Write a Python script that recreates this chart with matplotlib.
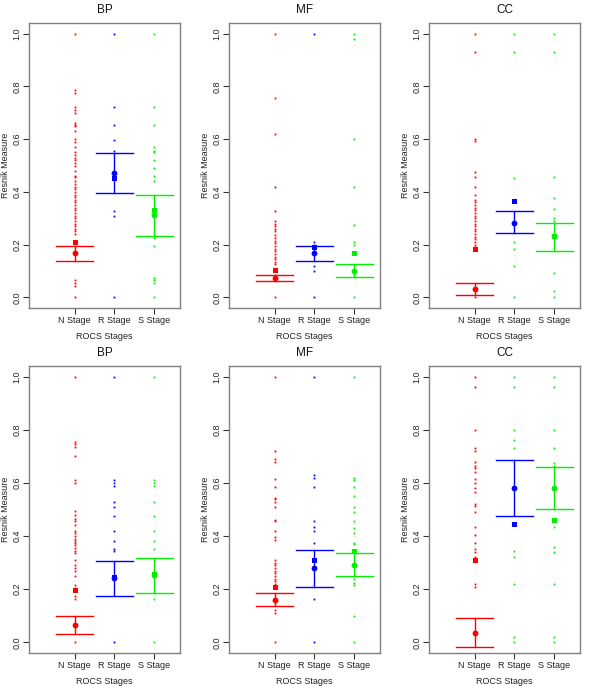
import matplotlib
matplotlib.use("Agg")
import matplotlib.pyplot as plt

stages = ["N Stage", "R Stage", "S Stage"]
titles = ["BP", "MF", "CC", "BP", "MF", "CC"]
stage_colors = ["#ff0000", "#0000ff", "#00f000"]

# individual scores (small dots) per panel, per stage
dots_top_bp = [
    [1.0, 0.785, 0.775, 0.72, 0.71, 0.70, 0.66, 0.655, 0.65, 0.63, 0.60, 0.59, 0.57, 0.55, 0.54,
     0.53, 0.52, 0.51, 0.50, 0.48, 0.46, 0.455, 0.44, 0.43, 0.42, 0.41, 0.40, 0.39, 0.38, 0.37,
     0.36, 0.35, 0.34, 0.33, 0.32, 0.31, 0.30, 0.29, 0.28, 0.27, 0.26, 0.25, 0.24, 0.065, 0.055,
     0.045, 0.0],
    [1.0, 0.72, 0.655, 0.595, 0.555, 0.326, 0.31, 0.0],
    [1.0, 0.72, 0.655, 0.57, 0.555, 0.55, 0.52, 0.49, 0.46, 0.44, 0.226, 0.194, 0.074, 0.065,
     0.053, 0.0],
]
dots_top_mf = [
    [1.0, 0.755, 0.619, 0.418, 0.327, 0.29, 0.28, 0.27, 0.26, 0.25, 0.235, 0.225, 0.215, 0.205,
     0.195, 0.185, 0.175, 0.165, 0.155, 0.145, 0.135, 0.125, 0.0],
    [1.0, 0.21, 0.2, 0.118, 0.1, 0.0],
    [1.0, 0.98, 0.6, 0.418, 0.275, 0.21, 0.2, 0.0],
]
dots_top_cc = [
    [1.0, 0.93, 0.6, 0.591, 0.474, 0.455, 0.42, 0.39, 0.37, 0.36, 0.35, 0.34, 0.33, 0.32, 0.31,
     0.30, 0.29, 0.28, 0.27, 0.26, 0.25, 0.24, 0.23, 0.22, 0.21, 0.2, 0.19, 0.0],
    [1.0, 0.93, 0.453, 0.211, 0.182, 0.119, 0.0],
    [1.0, 0.93, 0.455, 0.376, 0.336, 0.3, 0.29, 0.093, 0.023, 0.0],
]
dots_bot_bp = [
    [1.0, 0.755, 0.745, 0.735, 0.70, 0.61, 0.60, 0.494, 0.48, 0.465, 0.455, 0.44, 0.42, 0.41,
     0.40, 0.39, 0.38, 0.375, 0.365, 0.355, 0.345, 0.335, 0.31, 0.29, 0.28, 0.27, 0.25, 0.215,
     0.205, 0.175, 0.165, 0.0],
    [1.0, 0.61, 0.6, 0.59, 0.53, 0.51, 0.475, 0.42, 0.38, 0.35, 0.345, 0.0],
    [1.0, 0.61, 0.6, 0.59, 0.53, 0.475, 0.42, 0.38, 0.35, 0.165, 0.0],
]
dots_bot_mf = [
    [1.0, 0.72, 0.69, 0.68, 0.615, 0.585, 0.545, 0.54, 0.53, 0.51, 0.46, 0.455, 0.42, 0.395,
     0.385, 0.31, 0.30, 0.29, 0.28, 0.27, 0.26, 0.25, 0.24, 0.23, 0.22, 0.12, 0.11, 0.0],
    [1.0, 0.63, 0.62, 0.585, 0.455, 0.435, 0.42, 0.375, 0.165, 0.0],
    [1.0, 0.62, 0.61, 0.585, 0.55, 0.51, 0.49, 0.455, 0.43, 0.41, 0.375, 0.37, 0.24, 0.225,
     0.215, 0.1, 0.0],
]
dots_bot_cc = [
    [1.0, 0.96, 0.80, 0.73, 0.72, 0.68, 0.665, 0.655, 0.64, 0.615, 0.6, 0.58, 0.565, 0.52,
     0.515, 0.49, 0.435, 0.405, 0.375, 0.35, 0.34, 0.32, 0.22, 0.21],
    [1.0, 0.96, 0.80, 0.76, 0.73, 0.345, 0.32, 0.22, 0.02, 0.0],
    [1.0, 0.96, 0.80, 0.73, 0.675, 0.665, 0.435, 0.36, 0.34, 0.22, 0.02, 0.0],
]
panel_dots = [dots_top_bp, dots_top_mf, dots_top_cc, dots_bot_bp, dots_bot_mf, dots_bot_cc]

# colour of small dots per stage in each panel (CC panels show R-stage dots in green)
dot_colors = [
    ["#ff0000", "#0000ff", "#00f000"],
    ["#ff0000", "#0000ff", "#00f000"],
    ["#ff0000", "#00f000", "#00f000"],
    ["#ff0000", "#0000ff", "#00f000"],
    ["#ff0000", "#0000ff", "#00f000"],
    ["#ff0000", "#00f000", "#00f000"],
]

# means (circles), medians (squares), interval bounds
means = [
    [0.167, 0.470, 0.311],
    [0.074, 0.167, 0.100],
    [0.031, 0.284, 0.231],
    [0.064, 0.241, 0.252],
    [0.160, 0.279, 0.292],
    [0.036, 0.581, 0.581],
]
medians = [
    [0.209, 0.452, 0.331],
    [0.104, 0.192, 0.170],
    [0.185, 0.364, 0.231],
    [0.196, 0.245, 0.258],
    [0.210, 0.310, 0.345],
    [0.311, 0.445, 0.462],
]
lowers = [
    [0.140, 0.394, 0.234],
    [0.062, 0.140, 0.077],
    [0.009, 0.243, 0.177],
    [0.030, 0.174, 0.187],
    [0.135, 0.210, 0.249],
    [-0.018, 0.474, 0.502],
]
uppers = [
    [0.195, 0.547, 0.387],
    [0.086, 0.195, 0.125],
    [0.054, 0.326, 0.283],
    [0.098, 0.308, 0.317],
    [0.185, 0.348, 0.335],
    [0.090, 0.688, 0.660],
]

fig = plt.figure(figsize=(6.0, 6.86), dpi=100)
plt.rcParams['font.family'] = ['Liberation Sans', 'DejaVu Sans']

W, H = 600.0, 686.0
col_left = [29, 229, 429]
ax_w = 151
row_top = [23, 366]
ax_h = [285, 287]

xpos = [1, 2, 3]
frame_col = "#808080"

for i in range(6):
    r, c = divmod(i, 3)
    left = col_left[c] / W
    bottom = 1 - (row_top[r] + ax_h[r]) / H
    ax = fig.add_axes([left, bottom, ax_w / W, ax_h[r] / H])
    ax.set_xlim(-0.14, 3.64)
    ax.set_ylim(-0.04, 1.04)
    for s in range(3):
        d = panel_dots[i][s]
        ax.plot([xpos[s]] * len(d), d, linestyle="none", marker="s", markersize=1.3,
                markeredgewidth=0, color=dot_colors[i][s])
        col = stage_colors[s]
        lo, hi = lowers[i][s], uppers[i][s]
        ax.plot([xpos[s], xpos[s]], [lo, hi], color=col, lw=1.0)
        ax.plot([xpos[s] - 0.47, xpos[s] + 0.47], [lo, lo], color=col, lw=1.0)
        ax.plot([xpos[s] - 0.47, xpos[s] + 0.47], [hi, hi], color=col, lw=1.0)
        ax.plot([xpos[s]], [medians[i][s]], linestyle="none", marker="s", markersize=3.6,
                markeredgewidth=0, color=col)
        ax.plot([xpos[s]], [means[i][s]], linestyle="none", marker="o", markersize=4.2,
                markeredgewidth=0, color=col)
    ax.set_xticks(xpos)
    ax.set_xticklabels(stages, fontsize=6.5, color="#222222")
    ax.set_yticks([0.0, 0.2, 0.4, 0.6, 0.8, 1.0])
    ax.set_yticklabels(["0.0", "0.2", "0.4", "0.6", "0.8", "1.0"], fontsize=6.5,
                       rotation=90, va="center", color="#222222")
    ax.tick_params(axis="both", length=4, width=0.8, color="#333333", pad=1.5)
    for sp in ax.spines.values():
        sp.set_color(frame_col)
        sp.set_linewidth(1.0)
    ax.set_title(titles[i], fontsize=8.5, pad=7.5, color="#111111")
    ax.set_xlabel("ROCS Stages", fontsize=6.5, labelpad=5, color="#222222")
    ax.set_ylabel("Resnik Measure", fontsize=6.5, labelpad=2, color="#222222")

fig.savefig("out.png", dpi=100, facecolor="white")
